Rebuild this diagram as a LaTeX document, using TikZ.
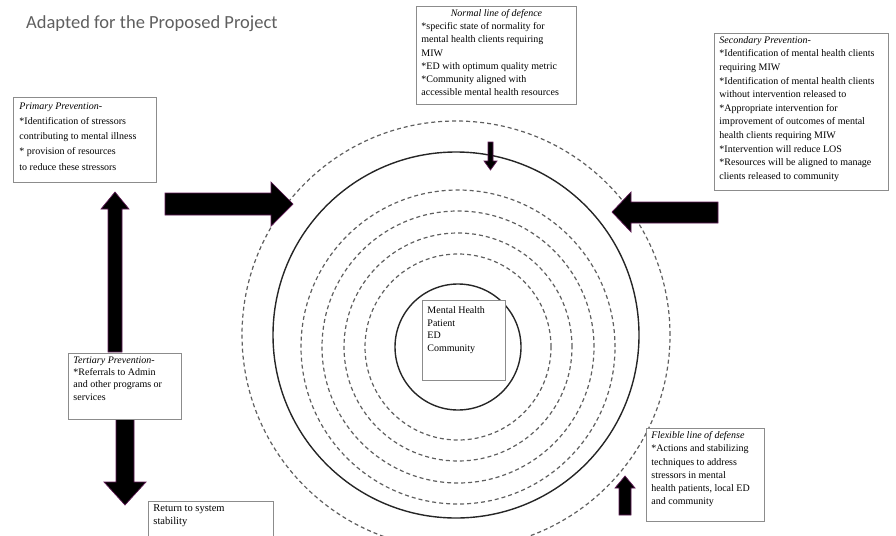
\documentclass[tikz,border=0pt]{standalone}
\usepackage{fontspec}
\setmainfont{Liberation Serif}
\newfontfamily\titlefont{Carlito}
\definecolor{boxgray}{RGB}{140,140,140}
\definecolor{arrowpurple}{RGB}{95,25,85}
\definecolor{titlegray}{RGB}{95,95,95}
\definecolor{dashgray}{RGB}{95,95,95}
\newcommand\fixedtext[3]{\parbox[c][#2][t]{#1}{\raggedright #3}}
\begin{document}
\begin{tikzpicture}[x=1pt,y=-1pt,
  txtbox/.style={draw=boxgray, line width=0.9pt, fill=white, inner xsep=5pt, inner ysep=3pt, anchor=north west},
  circsolid/.style={draw=black!85, line width=1.4pt},
  circdash/.style={draw=dashgray, line width=1.2pt, dash pattern=on 4pt off 3pt},
  blockarr/.style={fill=black, draw=arrowpurple, line width=0.7pt, line join=miter}]
\useasboundingbox (0,0) rectangle (896,535);

% title
\node[anchor=west, text=titlegray, inner sep=0pt] (title) at (26,24)
  {\titlefont\fontsize{18.5}{20}\selectfont Adapted for the Proposed Project};

% circles
\draw[circdash] (456,335) circle[radius=214pt];
\draw[circsolid] (456,335) circle[radius=183pt];
\draw[circdash] (458,347) circle[radius=157pt];
\draw[circdash] (458,347) circle[radius=136pt];
\draw[circdash] (458,347) circle[radius=114pt];
\draw[circdash] (458,347) circle[radius=93pt];
\draw[circsolid] (458,347) circle[radius=63pt];

% block arrows
\draw[blockarr] (165,193) -- (271,193) -- (271,182) -- (293,204) -- (271,226) -- (271,215) -- (165,215) -- cycle;
\draw[blockarr] (718,202) -- (631,202) -- (631,192) -- (612,212) -- (631,232) -- (631,223) -- (718,223) -- cycle;
\draw[blockarr] (108,352) -- (108,209) -- (101,209) -- (115,192) -- (129,209) -- (122,209) -- (122,352) -- cycle;
\draw[blockarr] (116,419) -- (116,482) -- (104,482) -- (125,505) -- (146,482) -- (134,482) -- (134,419) -- cycle;
\draw[blockarr] (488,142) -- (488,161) -- (484,161) -- (490.5,170) -- (497,161) -- (493,161) -- (493,142) -- cycle;
\draw[blockarr] (619,515) -- (619,488) -- (615,488) -- (625,476) -- (635,488) -- (631,488) -- (631,515) -- cycle;

% text boxes
\node[txtbox, inner xsep=6pt, inner ysep=5pt] (primary) at (13,97)
  {\fixedtext{131pt}{75pt}{\fontsize{10}{15.3}\selectfont
   \textit{Primary Prevention-}\\{}%
   *Identification of stressors\\{}%
   contributing to mental illness\\{}%
   * provision of resources\\{}%
   to reduce these stressors}};

\node[txtbox] (normal) at (416,6)
  {\fixedtext{150pt}{92pt}{\fontsize{10}{13.2}\selectfont
   \makebox[150pt]{\textit{Normal line of defence}}\\{}%
   *specific state of normality for\\{}%
   mental health clients requiring\\{}%
   MIW\\{}%
   *ED with optimum quality metric\\{}%
   *Community aligned with\\{}%
   accessible mental health resources}};

\node[txtbox] (secondary) at (714,33)
  {\fixedtext{164pt}{151pt}{\fontsize{10}{13.6}\selectfont
   \textit{Secondary Prevention-}\\{}%
   *Identification of mental health clients\\{}%
   requiring MIW\\{}%
   *Identification of mental health clients\\{}%
   without intervention released to\\{}%
   *Appropriate intervention for\\{}%
   improvement of outcomes of mental\\{}%
   health clients requiring MIW\\{}%
   *Intervention will reduce LOS\\{}%
   *Resources will be aligned to manage\\{}%
   clients released to community}};

\node[txtbox] (tertiary) at (68,353)
  {\fixedtext{103pt}{60pt}{\fontsize{10}{12.4}\selectfont
   \textit{Tertiary Prevention-}\\{}%
   *Referrals to Admin\\{}%
   and other programs or\\{}%
   services}};

\node[txtbox] (flexible) at (646,428)
  {\fixedtext{108pt}{87pt}{\fontsize{10}{13.3}\selectfont
   \textit{Flexible line of defense}\\{}%
   *Actions and stabilizing\\{}%
   techniques to address\\{}%
   stressors in mental\\{}%
   health patients, local ED\\{}%
   and community}};

\node[txtbox] (return) at (148,501)
  {\fixedtext{115pt}{40pt}{\fontsize{10.5}{13}\selectfont
   Return to system\\{}%
   stability}};

\node[txtbox, inner ysep=6pt] (center) at (422,300)
  {\fixedtext{73pt}{68pt}{\fontsize{10}{12.8}\selectfont
   Mental Health\\{}%
   Patient\\{}%
   ED\\{}%
   Community}};
\end{tikzpicture}
\end{document}
